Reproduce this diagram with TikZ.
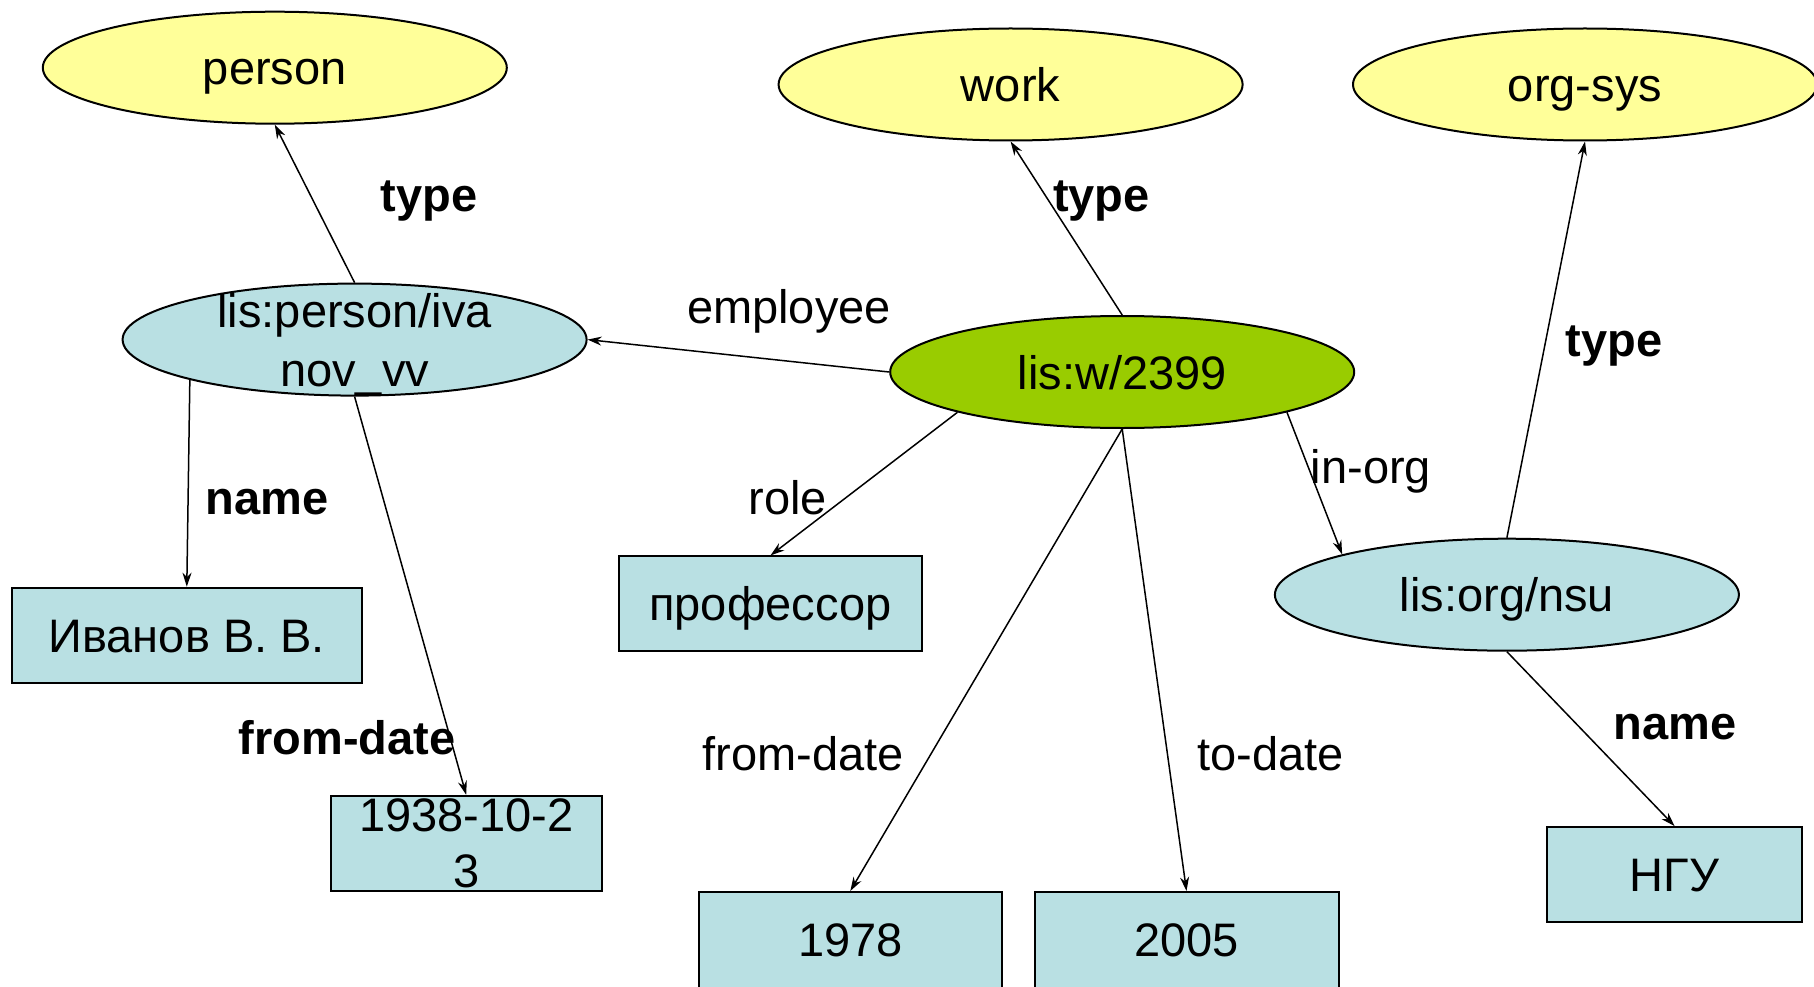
\documentclass[tikz,border=0pt]{standalone}
\usepackage{fontspec}
\setmainfont{Liberation Sans}
\usetikzlibrary{shapes.geometric,arrows.meta}
\definecolor{ylw}{HTML}{FFFF99}
\definecolor{lblue}{HTML}{B9E0E3}
\definecolor{grn}{HTML}{99CC00}
\tikzset{
  basebox/.style={draw=black, line width=2pt, inner sep=0pt, font=\fontsize{47}{56}\selectfont, align=center, text height=34pt, text depth=0pt},
  ell/.style={basebox, ellipse, minimum width=464pt, minimum height=112pt},
  cls/.style={ell, fill=ylw},
  res/.style={ell, fill=lblue},
  hub/.style={ell, fill=grn},
  lit/.style={basebox, rectangle, fill=lblue, minimum height=95pt},
  cutlit/.style={lit, minimum height=100pt, text depth=5pt},
  arr/.style={line width=1.5pt, -{Stealth[length=14pt,width=9pt]}},
  lbl/.style={inner sep=0pt, font=\fontsize{47}{56}\selectfont, text height=34pt, text depth=0pt},
  blbl/.style={lbl, font=\fontsize{47}{56}\selectfont\bfseries},
  mlbl/.style={inner sep=0pt, align=center},
}
\begin{document}
\begin{tikzpicture}[x=1pt,y=-1pt]
\useasboundingbox (0,0) rectangle (1814,987);
% class nodes
\node[cls] (person) at (274.8,67.7) {person};
\node[cls] (work) at (1010.6,84.5) {work};
\node[cls] (orgsys) at (1585,84.5) {org-sys};
% resource nodes
\node[res, label={[mlbl,font=\fontsize{47}{59}\selectfont,yshift=-5pt]center:{lis:person/iva\\nov\_vv}}] (iva) at (354.6,339.6) {};
\node[hub] (w) at (1122.2,372) {lis:w/2399};
\node[res] (nsu) at (1506.9,594.7) {lis:org/nsu};
% literal nodes
\node[lit, minimum width=350.5pt] (ivanov) at (186.8,635.2) {Иванов В. В.};
\node[lit, minimum width=303pt] (prof) at (770.5,603.9) {профессор};
\node[lit, minimum width=270.7pt, label={[mlbl,font=\fontsize{47}{56}\selectfont]center:{1938-10-2\\3}}] (d1938) at (466.2,843.4) {};
\node[cutlit, minimum width=303pt] (y1978) at (850.3,942) {1978};
\node[cutlit, minimum width=304pt] (y2005) at (1186.5,942) {2005};
\node[lit, minimum width=255.7pt] (ngu) at (1674.6,874.6) {НГУ};
% connectors
\draw[arr] (iva.north) -- (person.south);
\draw[arr] (w.north) -- (work.south);
\draw[arr] (nsu.north) -- (orgsys.south);
\draw[arr] (w.west) -- (iva.east);
\draw[arr] (iva.south west) -- (ivanov.north);
\draw[arr] (iva.south) -- (d1938.north);
\draw[arr] (w.south west) -- (prof.north);
\draw[arr] (w.south) -- (y1978.north);
\draw[arr] (w.south) -- (y2005.north);
\draw[arr] (w.south east) -- (nsu.north west);
\draw[arr] (nsu.south) -- (ngu.north);
% edge labels
\node[blbl] (lt1) at (429.2,194.4) {type};
\node[blbl] (lt2) at (1101.4,194.4) {type};
\node[blbl] (lt3) at (1613.9,339) {type};
\node[lbl] (lemp) at (789,306.6) {employee};
\node[blbl] (ln1) at (267.2,497.5) {name};
\node[lbl] (lrole) at (787.8,497.5) {role};
\node[lbl] (lorg) at (1371,466.2) {in-org};
\node[blbl] (lfd1) at (347,737) {from-date};
\node[lbl] (lfd2) at (803,753) {from-date};
\node[lbl] (ltd) at (1270.3,753) {to-date};
\node[blbl] (ln2) at (1675.2,722) {name};
\end{tikzpicture}
\end{document}
